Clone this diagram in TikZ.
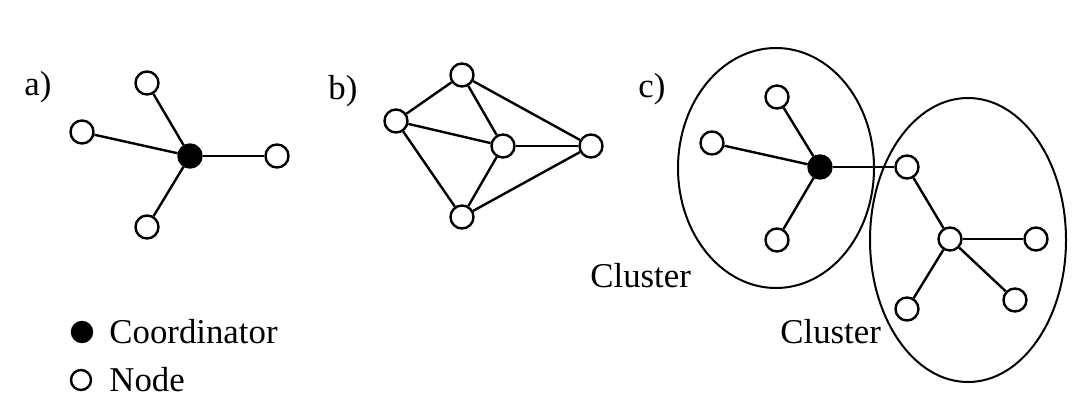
\documentclass[tikz,border=0pt]{standalone}
\usepackage{fontspec}
\setmainfont{Liberation Serif}
\begin{document}
\begin{tikzpicture}[x=0.5pt,y=-0.5pt,
  nd/.style={circle,draw,line width=1.2pt,fill=white,minimum size=11.5pt,inner sep=0pt},
  hub/.style={nd,fill=black},
  txt/.style={font=\fontsize{17.4}{20}\selectfont,inner sep=0pt},
  link/.style={line width=1.2pt}]
\useasboundingbox (0,0) rectangle (1092,413);
% a) star around one coordinator
\node[txt,anchor=base west] (la) at (24,95) {a)};
\node[hub] (ac) at (190,156) {};
\node[nd] (a1) at (147,83) {};
\node[nd] (a2) at (82,132) {};
\node[nd] (a3) at (277,156) {};
\node[nd] (a4) at (147,227) {};
\foreach \n in {a1,a2,a3,a4} \draw[link] (ac) -- (\n);
% b) mesh
\node[txt,anchor=base west] (lb) at (328,99) {b)};
\node[nd] (bt) at (462,75) {};
\node[nd] (bl) at (396,121) {};
\node[nd] (bm) at (503,146) {};
\node[nd] (br) at (591,146) {};
\node[nd] (bb) at (462,217) {};
\foreach \u/\v in {bt/bl,bt/bm,bt/br,bl/bm,bl/bb,bm/br,bm/bb,bb/br}
  \draw[link] (\u) -- (\v);
% c) two clusters
\node[txt,anchor=base west] (lc) at (638,97) {c)};
\draw[line width=1pt] (776,168) ellipse [x radius=98, y radius=120];
\draw[line width=1pt] (968,240) ellipse [x radius=98, y radius=142];
\node[hub] (cc) at (820,167) {};
\node[nd] (c1) at (777,97) {};
\node[nd] (c2) at (712,143) {};
\node[nd] (c3) at (777,240) {};
\node[nd] (dg) at (907,167) {};
\node[nd] (dm) at (950,239) {};
\node[nd] (d1) at (1036,239) {};
\node[nd] (d2) at (1015,300) {};
\node[nd] (d3) at (907,309) {};
\foreach \n in {c1,c2,c3,dg} \draw[link] (cc) -- (\n);
\draw[link] (dg) -- (dm);
\foreach \n in {d1,d2,d3} \draw[link] (dm) -- (\n);
\node[txt,anchor=base west] (k1) at (590,287) {Cluster};
\node[txt,anchor=base west] (k2) at (780,343) {Cluster};
% legend
\node[hub,minimum size=10pt] (lg1) at (82,332) {};
\node[nd,minimum size=10pt] (lg2) at (81,380) {};
\node[txt,anchor=base west] (t1) at (109,343) {Coordinator};
\node[txt,anchor=base west] (t2) at (109,391) {Node};
\end{tikzpicture}
\end{document}
